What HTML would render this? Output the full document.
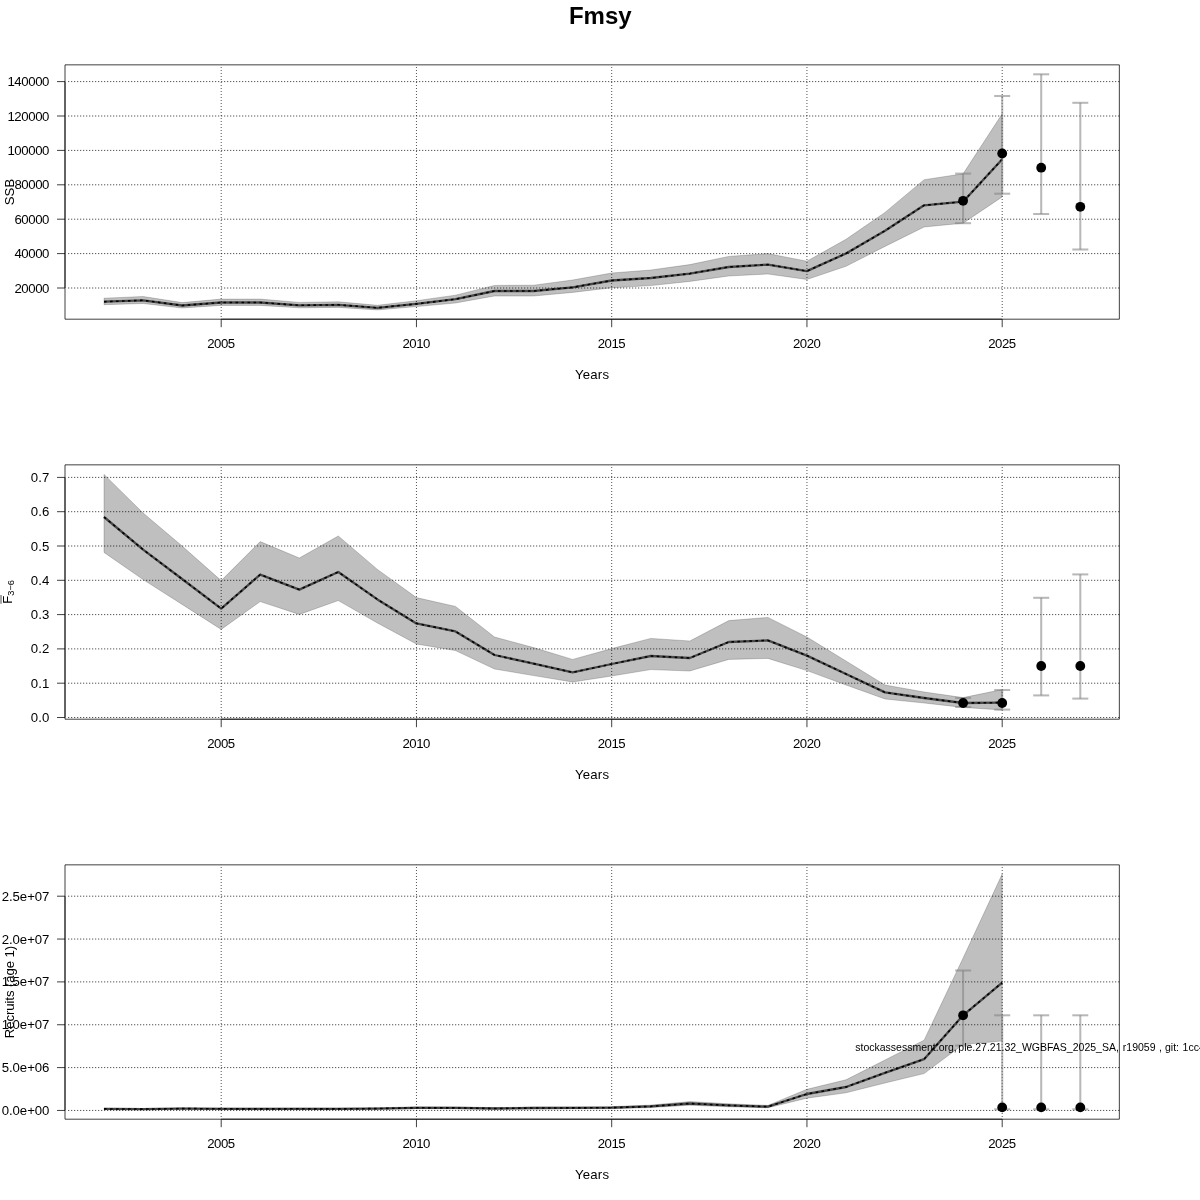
<!DOCTYPE html>
<html><head><meta charset="utf-8"><title>Fmsy</title>
<style>html,body{margin:0;padding:0;background:#fff}svg{display:block;will-change:transform}</style></head>
<body>
<svg width="1200" height="1200" viewBox="0 0 1200 1200">
<rect width="1200" height="1200" fill="#fff"/>
<text x="600.3" y="24.2" text-anchor="middle" font-size="24" font-weight="bold" font-family="Liberation Sans, sans-serif">Fmsy</text>
<g>
<rect x="65.0" y="64.85" width="1054.35" height="254.35" fill="none" stroke="#000" stroke-width="0.75" stroke-linejoin="round"/>
<path d="M221.20 319.2H1002.20" stroke="#000" stroke-width="0.75" fill="none"/>
<path d="M221.20 319.2V327.2" stroke="#000" stroke-width="0.75"/>
<text x="221.20" y="348.2" text-anchor="middle" font-size="13.2" textLength="28" lengthAdjust="spacing" font-family="Liberation Sans, sans-serif">2005</text>
<path d="M416.45 319.2V327.2" stroke="#000" stroke-width="0.75"/>
<text x="416.45" y="348.2" text-anchor="middle" font-size="13.2" textLength="28" lengthAdjust="spacing" font-family="Liberation Sans, sans-serif">2010</text>
<path d="M611.70 319.2V327.2" stroke="#000" stroke-width="0.75"/>
<text x="611.70" y="348.2" text-anchor="middle" font-size="13.2" textLength="28" lengthAdjust="spacing" font-family="Liberation Sans, sans-serif">2015</text>
<path d="M806.95 319.2V327.2" stroke="#000" stroke-width="0.75"/>
<text x="806.95" y="348.2" text-anchor="middle" font-size="13.2" textLength="28" lengthAdjust="spacing" font-family="Liberation Sans, sans-serif">2020</text>
<path d="M1002.20 319.2V327.2" stroke="#000" stroke-width="0.75"/>
<text x="1002.20" y="348.2" text-anchor="middle" font-size="13.2" textLength="28" lengthAdjust="spacing" font-family="Liberation Sans, sans-serif">2025</text>
<path d="M65.0 81.60V288.00" stroke="#000" stroke-width="0.75" fill="none"/>
<path d="M65.0 81.60H57.0" stroke="#000" stroke-width="0.75"/>
<text x="49.4" y="86.1" text-anchor="end" font-size="13.2" textLength="42" lengthAdjust="spacing" font-family="Liberation Sans, sans-serif">140000</text>
<path d="M65.0 116.00H57.0" stroke="#000" stroke-width="0.75"/>
<text x="49.4" y="120.5" text-anchor="end" font-size="13.2" textLength="42" lengthAdjust="spacing" font-family="Liberation Sans, sans-serif">120000</text>
<path d="M65.0 150.40H57.0" stroke="#000" stroke-width="0.75"/>
<text x="49.4" y="154.9" text-anchor="end" font-size="13.2" textLength="42" lengthAdjust="spacing" font-family="Liberation Sans, sans-serif">100000</text>
<path d="M65.0 184.80H57.0" stroke="#000" stroke-width="0.75"/>
<text x="49.4" y="189.3" text-anchor="end" font-size="13.2" textLength="35" lengthAdjust="spacing" font-family="Liberation Sans, sans-serif">80000</text>
<path d="M65.0 219.20H57.0" stroke="#000" stroke-width="0.75"/>
<text x="49.4" y="223.7" text-anchor="end" font-size="13.2" textLength="35" lengthAdjust="spacing" font-family="Liberation Sans, sans-serif">60000</text>
<path d="M65.0 253.60H57.0" stroke="#000" stroke-width="0.75"/>
<text x="49.4" y="258.1" text-anchor="end" font-size="13.2" textLength="35" lengthAdjust="spacing" font-family="Liberation Sans, sans-serif">40000</text>
<path d="M65.0 288.00H57.0" stroke="#000" stroke-width="0.75"/>
<text x="49.4" y="292.5" text-anchor="end" font-size="13.2" textLength="35" lengthAdjust="spacing" font-family="Liberation Sans, sans-serif">20000</text>
<text x="592" y="379.0" text-anchor="middle" font-size="13.2" textLength="34" lengthAdjust="spacing" font-family="Liberation Sans, sans-serif">Years</text>
<text transform="translate(14 192.0) rotate(-90)" text-anchor="middle" font-size="13.2" textLength="26.4" lengthAdjust="spacing" font-family="Liberation Sans, sans-serif">SSB</text>
<path d="M68.25 81.60H1119.35" stroke="#000" stroke-width="0.9" stroke-dasharray="0.95 2.05" fill="none"/>
<path d="M68.25 116.00H1119.35" stroke="#000" stroke-width="0.9" stroke-dasharray="0.95 2.05" fill="none"/>
<path d="M68.25 150.40H1119.35" stroke="#000" stroke-width="0.9" stroke-dasharray="0.95 2.05" fill="none"/>
<path d="M68.25 184.80H1119.35" stroke="#000" stroke-width="0.9" stroke-dasharray="0.95 2.05" fill="none"/>
<path d="M68.25 219.20H1119.35" stroke="#000" stroke-width="0.9" stroke-dasharray="0.95 2.05" fill="none"/>
<path d="M68.25 253.60H1119.35" stroke="#000" stroke-width="0.9" stroke-dasharray="0.95 2.05" fill="none"/>
<path d="M68.25 288.00H1119.35" stroke="#000" stroke-width="0.9" stroke-dasharray="0.95 2.05" fill="none"/>
<path d="M221.20 317.0V64.85" stroke="#000" stroke-width="0.8" stroke-dasharray="0.85 2.15" fill="none"/>
<path d="M416.45 317.0V64.85" stroke="#000" stroke-width="0.8" stroke-dasharray="0.85 2.15" fill="none"/>
<path d="M611.70 317.0V64.85" stroke="#000" stroke-width="0.8" stroke-dasharray="0.85 2.15" fill="none"/>
<path d="M806.95 317.0V64.85" stroke="#000" stroke-width="0.8" stroke-dasharray="0.85 2.15" fill="none"/>
<path d="M1002.20 317.0V64.85" stroke="#000" stroke-width="0.8" stroke-dasharray="0.85 2.15" fill="none"/>
<polygon points="104.0,298.2 143.1,296.5 182.1,302.6 221.2,299.1 260.2,299.1 299.3,302.4 338.3,301.8 377.4,305.3 416.4,300.7 455.5,295.2 494.5,285.4 533.6,285.2 572.6,280.0 611.7,273.0 650.8,270.0 689.8,264.6 728.8,256.4 767.9,253.6 806.9,261.2 846.0,239.3 885.0,212.4 924.1,179.7 963.1,173.8 1002.2,113.8 1002.2,196.9 963.1,223.2 924.1,227.0 885.0,246.4 846.0,266.3 806.9,279.5 767.9,274.0 728.8,276.0 689.8,281.4 650.8,285.6 611.7,287.8 572.6,292.4 533.6,296.0 494.5,296.0 455.5,303.0 416.4,306.6 377.4,309.9 338.3,307.4 299.3,307.8 260.2,305.4 221.2,305.4 182.1,308.0 143.1,303.5 104.0,304.7" fill="rgba(0,0,0,0.25)" stroke="rgba(0,0,0,0.25)" stroke-width="0.75" stroke-linejoin="round"/>
<path d="M104.0 301.7 L143.1 300.3 L182.1 305.5 L221.2 302.5 L260.2 302.5 L299.3 305.3 L338.3 304.8 L377.4 307.8 L416.4 303.9 L455.5 299.2 L494.5 291.0 L533.6 291.0 L572.6 287.4 L611.7 280.5 L650.8 278.0 L689.8 273.6 L728.8 267.0 L767.9 264.6 L806.9 271.1 L846.0 253.5 L885.0 230.8 L924.1 205.3 L963.1 201.7 L1002.2 159.2" fill="none" stroke="rgba(0,0,0,0.62)" stroke-width="2.3" stroke-linejoin="round"/>
<path d="M104.0 301.7 L143.1 300.3 L182.1 305.5 L221.2 302.5 L260.2 302.5 L299.3 305.3 L338.3 304.8 L377.4 307.8 L416.4 303.9 L455.5 299.2 L494.5 291.0 L533.6 291.0 L572.6 287.4 L611.7 280.5 L650.8 278.0 L689.8 273.6 L728.8 267.0 L767.9 264.6 L806.9 271.1 L846.0 253.5 L885.0 230.8 L924.1 205.3 L963.1 201.7 L1002.2 159.2" fill="none" stroke="#000" stroke-width="1.6" stroke-dasharray="2.6 3.4" stroke-linejoin="round"/>
<path d="M963.1 173.6V223.2" stroke="rgba(128,128,128,0.56)" stroke-width="2.05" fill="none"/>
<path d="M955.1 173.6H971.1" stroke="rgba(128,128,128,0.56)" stroke-width="2.05" fill="none"/>
<path d="M955.1 223.2H971.1" stroke="rgba(128,128,128,0.56)" stroke-width="2.05" fill="none"/>
<path d="M1002.2 96V193.7" stroke="rgba(128,128,128,0.56)" stroke-width="2.05" fill="none"/>
<path d="M994.2 96H1010.2" stroke="rgba(128,128,128,0.56)" stroke-width="2.05" fill="none"/>
<path d="M994.2 193.7H1010.2" stroke="rgba(128,128,128,0.56)" stroke-width="2.05" fill="none"/>
<path d="M1041.2 74.3V214" stroke="rgba(128,128,128,0.56)" stroke-width="2.05" fill="none"/>
<path d="M1033.2 74.3H1049.2" stroke="rgba(128,128,128,0.56)" stroke-width="2.05" fill="none"/>
<path d="M1033.2 214H1049.2" stroke="rgba(128,128,128,0.56)" stroke-width="2.05" fill="none"/>
<path d="M1080.3 102.8V249.5" stroke="rgba(128,128,128,0.56)" stroke-width="2.05" fill="none"/>
<path d="M1072.3 102.8H1088.3" stroke="rgba(128,128,128,0.56)" stroke-width="2.05" fill="none"/>
<path d="M1072.3 249.5H1088.3" stroke="rgba(128,128,128,0.56)" stroke-width="2.05" fill="none"/>
<circle cx="963.1" cy="200.8" r="4.9" fill="#000"/>
<circle cx="1002.2" cy="153.5" r="4.9" fill="#000"/>
<circle cx="1041.2" cy="167.7" r="4.9" fill="#000"/>
<circle cx="1080.3" cy="206.8" r="4.9" fill="#000"/>
</g>
<g>
<rect x="65.0" y="464.85" width="1054.35" height="254.35000000000002" fill="none" stroke="#000" stroke-width="0.75" stroke-linejoin="round"/>
<path d="M221.20 719.2H1002.20" stroke="#000" stroke-width="0.75" fill="none"/>
<path d="M221.20 719.2V727.2" stroke="#000" stroke-width="0.75"/>
<text x="221.20" y="748.2" text-anchor="middle" font-size="13.2" textLength="28" lengthAdjust="spacing" font-family="Liberation Sans, sans-serif">2005</text>
<path d="M416.45 719.2V727.2" stroke="#000" stroke-width="0.75"/>
<text x="416.45" y="748.2" text-anchor="middle" font-size="13.2" textLength="28" lengthAdjust="spacing" font-family="Liberation Sans, sans-serif">2010</text>
<path d="M611.70 719.2V727.2" stroke="#000" stroke-width="0.75"/>
<text x="611.70" y="748.2" text-anchor="middle" font-size="13.2" textLength="28" lengthAdjust="spacing" font-family="Liberation Sans, sans-serif">2015</text>
<path d="M806.95 719.2V727.2" stroke="#000" stroke-width="0.75"/>
<text x="806.95" y="748.2" text-anchor="middle" font-size="13.2" textLength="28" lengthAdjust="spacing" font-family="Liberation Sans, sans-serif">2020</text>
<path d="M1002.20 719.2V727.2" stroke="#000" stroke-width="0.75"/>
<text x="1002.20" y="748.2" text-anchor="middle" font-size="13.2" textLength="28" lengthAdjust="spacing" font-family="Liberation Sans, sans-serif">2025</text>
<path d="M65.0 477.40V717.50" stroke="#000" stroke-width="0.75" fill="none"/>
<path d="M65.0 477.40H57.0" stroke="#000" stroke-width="0.75"/>
<text x="49.4" y="481.9" text-anchor="end" font-size="13.2" textLength="18.7" lengthAdjust="spacing" font-family="Liberation Sans, sans-serif">0.7</text>
<path d="M65.0 511.70H57.0" stroke="#000" stroke-width="0.75"/>
<text x="49.4" y="516.2" text-anchor="end" font-size="13.2" textLength="18.7" lengthAdjust="spacing" font-family="Liberation Sans, sans-serif">0.6</text>
<path d="M65.0 546.00H57.0" stroke="#000" stroke-width="0.75"/>
<text x="49.4" y="550.5" text-anchor="end" font-size="13.2" textLength="18.7" lengthAdjust="spacing" font-family="Liberation Sans, sans-serif">0.5</text>
<path d="M65.0 580.30H57.0" stroke="#000" stroke-width="0.75"/>
<text x="49.4" y="584.8" text-anchor="end" font-size="13.2" textLength="18.7" lengthAdjust="spacing" font-family="Liberation Sans, sans-serif">0.4</text>
<path d="M65.0 614.60H57.0" stroke="#000" stroke-width="0.75"/>
<text x="49.4" y="619.1" text-anchor="end" font-size="13.2" textLength="18.7" lengthAdjust="spacing" font-family="Liberation Sans, sans-serif">0.3</text>
<path d="M65.0 648.90H57.0" stroke="#000" stroke-width="0.75"/>
<text x="49.4" y="653.4" text-anchor="end" font-size="13.2" textLength="18.7" lengthAdjust="spacing" font-family="Liberation Sans, sans-serif">0.2</text>
<path d="M65.0 683.20H57.0" stroke="#000" stroke-width="0.75"/>
<text x="49.4" y="687.7" text-anchor="end" font-size="13.2" textLength="18.7" lengthAdjust="spacing" font-family="Liberation Sans, sans-serif">0.1</text>
<path d="M65.0 717.50H57.0" stroke="#000" stroke-width="0.75"/>
<text x="49.4" y="722.0" text-anchor="end" font-size="13.2" textLength="18.7" lengthAdjust="spacing" font-family="Liberation Sans, sans-serif">0.0</text>
<text x="592" y="779.0" text-anchor="middle" font-size="13.2" textLength="34" lengthAdjust="spacing" font-family="Liberation Sans, sans-serif">Years</text>
<g transform="translate(12 603.75) rotate(-90)"><text x="0" y="0" font-size="13.2" font-family="Liberation Sans, sans-serif">F</text><text x="8.1" y="2" font-size="9.24" font-family="Liberation Sans, sans-serif">3−6</text><path d="M0 -11H8.7" stroke="#888" stroke-width="1.5"/></g>
<path d="M68.25 477.40H1119.35" stroke="#000" stroke-width="0.9" stroke-dasharray="0.95 2.05" fill="none"/>
<path d="M68.25 511.70H1119.35" stroke="#000" stroke-width="0.9" stroke-dasharray="0.95 2.05" fill="none"/>
<path d="M68.25 546.00H1119.35" stroke="#000" stroke-width="0.9" stroke-dasharray="0.95 2.05" fill="none"/>
<path d="M68.25 580.30H1119.35" stroke="#000" stroke-width="0.9" stroke-dasharray="0.95 2.05" fill="none"/>
<path d="M68.25 614.60H1119.35" stroke="#000" stroke-width="0.9" stroke-dasharray="0.95 2.05" fill="none"/>
<path d="M68.25 648.90H1119.35" stroke="#000" stroke-width="0.9" stroke-dasharray="0.95 2.05" fill="none"/>
<path d="M68.25 683.20H1119.35" stroke="#000" stroke-width="0.9" stroke-dasharray="0.95 2.05" fill="none"/>
<path d="M68.25 717.50H1119.35" stroke="#000" stroke-width="0.9" stroke-dasharray="0.95 2.05" fill="none"/>
<path d="M221.20 717.0V464.85" stroke="#000" stroke-width="0.8" stroke-dasharray="0.85 2.15" fill="none"/>
<path d="M416.45 717.0V464.85" stroke="#000" stroke-width="0.8" stroke-dasharray="0.85 2.15" fill="none"/>
<path d="M611.70 717.0V464.85" stroke="#000" stroke-width="0.8" stroke-dasharray="0.85 2.15" fill="none"/>
<path d="M806.95 717.0V464.85" stroke="#000" stroke-width="0.8" stroke-dasharray="0.85 2.15" fill="none"/>
<path d="M1002.20 717.0V464.85" stroke="#000" stroke-width="0.8" stroke-dasharray="0.85 2.15" fill="none"/>
<polygon points="104.0,474.4 143.1,513.0 182.1,546.0 221.2,580.6 260.2,541.6 299.3,558.0 338.3,536.0 377.4,569.4 416.4,597.6 455.5,606.4 494.5,637.0 533.6,647.6 572.6,659.4 611.7,648.6 650.8,638.4 689.8,641.0 728.8,620.6 767.9,617.4 806.9,637.0 846.0,661.0 885.0,685.0 924.1,692.0 963.1,697.6 1002.2,689.6 1002.2,710.0 963.1,707.4 924.1,703.0 885.0,699.0 846.0,685.0 806.9,670.6 767.9,658.4 728.8,659.4 689.8,671.0 650.8,669.6 611.7,676.0 572.6,682.0 533.6,675.6 494.5,669.0 455.5,650.6 416.4,644.0 377.4,623.0 338.3,600.6 299.3,614.4 260.2,601.6 221.2,629.4 182.1,604.4 143.1,579.6 104.0,552.4" fill="rgba(0,0,0,0.25)" stroke="rgba(0,0,0,0.25)" stroke-width="0.75" stroke-linejoin="round"/>
<path d="M104.0 517.0 L143.1 549.6 L182.1 579.0 L221.2 608.6 L260.2 574.6 L299.3 589.6 L338.3 572.0 L377.4 599.4 L416.4 623.4 L455.5 631.4 L494.5 655.0 L533.6 663.6 L572.6 672.4 L611.7 664.0 L650.8 656.0 L689.8 658.0 L728.8 642.0 L767.9 640.4 L806.9 655.6 L846.0 674.0 L885.0 692.4 L924.1 698.0 L963.1 703.0 L1002.2 702.6" fill="none" stroke="rgba(0,0,0,0.62)" stroke-width="2.3" stroke-linejoin="round"/>
<path d="M104.0 517.0 L143.1 549.6 L182.1 579.0 L221.2 608.6 L260.2 574.6 L299.3 589.6 L338.3 572.0 L377.4 599.4 L416.4 623.4 L455.5 631.4 L494.5 655.0 L533.6 663.6 L572.6 672.4 L611.7 664.0 L650.8 656.0 L689.8 658.0 L728.8 642.0 L767.9 640.4 L806.9 655.6 L846.0 674.0 L885.0 692.4 L924.1 698.0 L963.1 703.0 L1002.2 702.6" fill="none" stroke="#000" stroke-width="1.6" stroke-dasharray="2.6 3.4" stroke-linejoin="round"/>
<path d="M963.1 698V707" stroke="rgba(128,128,128,0.56)" stroke-width="2.05" fill="none"/>
<path d="M955.1 698H971.1" stroke="rgba(128,128,128,0.56)" stroke-width="2.05" fill="none"/>
<path d="M955.1 707H971.1" stroke="rgba(128,128,128,0.56)" stroke-width="2.05" fill="none"/>
<path d="M1002.2 690V709.6" stroke="rgba(128,128,128,0.56)" stroke-width="2.05" fill="none"/>
<path d="M994.2 690H1010.2" stroke="rgba(128,128,128,0.56)" stroke-width="2.05" fill="none"/>
<path d="M994.2 709.6H1010.2" stroke="rgba(128,128,128,0.56)" stroke-width="2.05" fill="none"/>
<path d="M1041.2 597.8V695.4" stroke="rgba(128,128,128,0.56)" stroke-width="2.05" fill="none"/>
<path d="M1033.2 597.8H1049.2" stroke="rgba(128,128,128,0.56)" stroke-width="2.05" fill="none"/>
<path d="M1033.2 695.4H1049.2" stroke="rgba(128,128,128,0.56)" stroke-width="2.05" fill="none"/>
<path d="M1080.3 574.4V698.6" stroke="rgba(128,128,128,0.56)" stroke-width="2.05" fill="none"/>
<path d="M1072.3 574.4H1088.3" stroke="rgba(128,128,128,0.56)" stroke-width="2.05" fill="none"/>
<path d="M1072.3 698.6H1088.3" stroke="rgba(128,128,128,0.56)" stroke-width="2.05" fill="none"/>
<circle cx="963.1" cy="703" r="4.9" fill="#000"/>
<circle cx="1002.2" cy="703" r="4.9" fill="#000"/>
<circle cx="1041.2" cy="666" r="4.9" fill="#000"/>
<circle cx="1080.3" cy="666" r="4.9" fill="#000"/>
</g>
<g>
<rect x="65.0" y="864.85" width="1054.35" height="254.35000000000002" fill="none" stroke="#000" stroke-width="0.75" stroke-linejoin="round"/>
<path d="M221.20 1119.2H1002.20" stroke="#000" stroke-width="0.75" fill="none"/>
<path d="M221.20 1119.2V1127.2" stroke="#000" stroke-width="0.75"/>
<text x="221.20" y="1148.2" text-anchor="middle" font-size="13.2" textLength="28" lengthAdjust="spacing" font-family="Liberation Sans, sans-serif">2005</text>
<path d="M416.45 1119.2V1127.2" stroke="#000" stroke-width="0.75"/>
<text x="416.45" y="1148.2" text-anchor="middle" font-size="13.2" textLength="28" lengthAdjust="spacing" font-family="Liberation Sans, sans-serif">2010</text>
<path d="M611.70 1119.2V1127.2" stroke="#000" stroke-width="0.75"/>
<text x="611.70" y="1148.2" text-anchor="middle" font-size="13.2" textLength="28" lengthAdjust="spacing" font-family="Liberation Sans, sans-serif">2015</text>
<path d="M806.95 1119.2V1127.2" stroke="#000" stroke-width="0.75"/>
<text x="806.95" y="1148.2" text-anchor="middle" font-size="13.2" textLength="28" lengthAdjust="spacing" font-family="Liberation Sans, sans-serif">2020</text>
<path d="M1002.20 1119.2V1127.2" stroke="#000" stroke-width="0.75"/>
<text x="1002.20" y="1148.2" text-anchor="middle" font-size="13.2" textLength="28" lengthAdjust="spacing" font-family="Liberation Sans, sans-serif">2025</text>
<path d="M65.0 896.20V1110.45" stroke="#000" stroke-width="0.75" fill="none"/>
<path d="M65.0 896.20H57.0" stroke="#000" stroke-width="0.75"/>
<text x="49.4" y="900.7" text-anchor="end" font-size="13.2" textLength="47.7" lengthAdjust="spacing" font-family="Liberation Sans, sans-serif">2.5e+07</text>
<path d="M65.0 939.05H57.0" stroke="#000" stroke-width="0.75"/>
<text x="49.4" y="943.6" text-anchor="end" font-size="13.2" textLength="47.7" lengthAdjust="spacing" font-family="Liberation Sans, sans-serif">2.0e+07</text>
<path d="M65.0 981.90H57.0" stroke="#000" stroke-width="0.75"/>
<text x="49.4" y="986.4" text-anchor="end" font-size="13.2" textLength="47.7" lengthAdjust="spacing" font-family="Liberation Sans, sans-serif">1.5e+07</text>
<path d="M65.0 1024.75H57.0" stroke="#000" stroke-width="0.75"/>
<text x="49.4" y="1029.2" text-anchor="end" font-size="13.2" textLength="47.7" lengthAdjust="spacing" font-family="Liberation Sans, sans-serif">1.0e+07</text>
<path d="M65.0 1067.60H57.0" stroke="#000" stroke-width="0.75"/>
<text x="49.4" y="1072.1" text-anchor="end" font-size="13.2" textLength="47.7" lengthAdjust="spacing" font-family="Liberation Sans, sans-serif">5.0e+06</text>
<path d="M65.0 1110.45H57.0" stroke="#000" stroke-width="0.75"/>
<text x="49.4" y="1115.0" text-anchor="end" font-size="13.2" textLength="47.7" lengthAdjust="spacing" font-family="Liberation Sans, sans-serif">0.0e+00</text>
<text x="592" y="1179.0" text-anchor="middle" font-size="13.2" textLength="34" lengthAdjust="spacing" font-family="Liberation Sans, sans-serif">Years</text>
<text transform="translate(14 992.0) rotate(-90)" text-anchor="middle" font-size="13.2" textLength="92.3" lengthAdjust="spacing" font-family="Liberation Sans, sans-serif">Recruits (age 1)</text>
<path d="M68.25 896.20H1119.35" stroke="#000" stroke-width="0.9" stroke-dasharray="0.95 2.05" fill="none"/>
<path d="M68.25 939.05H1119.35" stroke="#000" stroke-width="0.9" stroke-dasharray="0.95 2.05" fill="none"/>
<path d="M68.25 981.90H1119.35" stroke="#000" stroke-width="0.9" stroke-dasharray="0.95 2.05" fill="none"/>
<path d="M68.25 1024.75H1119.35" stroke="#000" stroke-width="0.9" stroke-dasharray="0.95 2.05" fill="none"/>
<path d="M68.25 1067.60H1119.35" stroke="#000" stroke-width="0.9" stroke-dasharray="0.95 2.05" fill="none"/>
<path d="M68.25 1110.45H1119.35" stroke="#000" stroke-width="0.9" stroke-dasharray="0.95 2.05" fill="none"/>
<path d="M221.20 1117.0V864.85" stroke="#000" stroke-width="0.8" stroke-dasharray="0.85 2.15" fill="none"/>
<path d="M416.45 1117.0V864.85" stroke="#000" stroke-width="0.8" stroke-dasharray="0.85 2.15" fill="none"/>
<path d="M611.70 1117.0V864.85" stroke="#000" stroke-width="0.8" stroke-dasharray="0.85 2.15" fill="none"/>
<path d="M806.95 1117.0V864.85" stroke="#000" stroke-width="0.8" stroke-dasharray="0.85 2.15" fill="none"/>
<path d="M1002.20 1117.0V864.85" stroke="#000" stroke-width="0.8" stroke-dasharray="0.85 2.15" fill="none"/>
<polygon points="104.0,1108.2 143.1,1108.4 182.1,1107.8 221.2,1108.0 260.2,1108.1 299.3,1108.0 338.3,1108.1 377.4,1107.8 416.4,1106.8 455.5,1106.9 494.5,1107.6 533.6,1107.0 572.6,1106.9 611.7,1106.6 650.8,1105.1 689.8,1101.6 728.8,1103.8 767.9,1105.4 806.9,1089.3 846.0,1079.8 885.0,1060.0 924.1,1040.2 963.1,958.0 1002.2,874.0 1002.2,1041.0 963.1,1044.5 924.1,1073.6 885.0,1083.0 846.0,1092.8 806.9,1098.2 767.9,1107.8 728.8,1106.8 689.8,1105.2 650.8,1107.6 611.7,1108.7 572.6,1108.8 533.6,1108.9 494.5,1109.3 455.5,1108.8 416.4,1108.7 377.4,1109.3 338.3,1109.6 299.3,1109.5 260.2,1109.6 221.2,1109.5 182.1,1109.3 143.1,1109.7 104.0,1109.5" fill="rgba(0,0,0,0.25)" stroke="rgba(0,0,0,0.25)" stroke-width="0.75" stroke-linejoin="round"/>
<path d="M104.0 1108.9 L143.1 1109.1 L182.1 1108.6 L221.2 1108.8 L260.2 1108.9 L299.3 1108.8 L338.3 1108.9 L377.4 1108.6 L416.4 1107.8 L455.5 1107.9 L494.5 1108.5 L533.6 1108.0 L572.6 1107.9 L611.7 1107.7 L650.8 1106.4 L689.8 1103.5 L728.8 1105.4 L767.9 1106.7 L806.9 1094.0 L846.0 1087.0 L885.0 1072.8 L924.1 1059.2 L963.1 1015.3 L1002.2 982.6" fill="none" stroke="rgba(0,0,0,0.62)" stroke-width="2.3" stroke-linejoin="round"/>
<path d="M104.0 1108.9 L143.1 1109.1 L182.1 1108.6 L221.2 1108.8 L260.2 1108.9 L299.3 1108.8 L338.3 1108.9 L377.4 1108.6 L416.4 1107.8 L455.5 1107.9 L494.5 1108.5 L533.6 1108.0 L572.6 1107.9 L611.7 1107.7 L650.8 1106.4 L689.8 1103.5 L728.8 1105.4 L767.9 1106.7 L806.9 1094.0 L846.0 1087.0 L885.0 1072.8 L924.1 1059.2 L963.1 1015.3 L1002.2 982.6" fill="none" stroke="#000" stroke-width="1.6" stroke-dasharray="2.6 3.4" stroke-linejoin="round"/>
<path d="M963.1 970.5V1045.5" stroke="rgba(128,128,128,0.56)" stroke-width="2.05" fill="none"/>
<path d="M955.1 970.5H971.1" stroke="rgba(128,128,128,0.56)" stroke-width="2.05" fill="none"/>
<path d="M955.1 1045.5H971.1" stroke="rgba(128,128,128,0.56)" stroke-width="2.05" fill="none"/>
<path d="M1002.2 1015.3V1109.3" stroke="rgba(128,128,128,0.56)" stroke-width="2.05" fill="none"/>
<path d="M994.2 1015.3H1010.2" stroke="rgba(128,128,128,0.56)" stroke-width="2.05" fill="none"/>
<path d="M994.2 1109.3H1010.2" stroke="rgba(128,128,128,0.56)" stroke-width="2.05" fill="none"/>
<path d="M1041.2 1015.3V1109.3" stroke="rgba(128,128,128,0.56)" stroke-width="2.05" fill="none"/>
<path d="M1033.2 1015.3H1049.2" stroke="rgba(128,128,128,0.56)" stroke-width="2.05" fill="none"/>
<path d="M1033.2 1109.3H1049.2" stroke="rgba(128,128,128,0.56)" stroke-width="2.05" fill="none"/>
<path d="M1080.3 1015.3V1109.3" stroke="rgba(128,128,128,0.56)" stroke-width="2.05" fill="none"/>
<path d="M1072.3 1015.3H1088.3" stroke="rgba(128,128,128,0.56)" stroke-width="2.05" fill="none"/>
<path d="M1072.3 1109.3H1088.3" stroke="rgba(128,128,128,0.56)" stroke-width="2.05" fill="none"/>
<circle cx="963.1" cy="1015.3" r="4.9" fill="#000"/>
<circle cx="1002.2" cy="1107.4" r="4.9" fill="#000"/>
<circle cx="1041.2" cy="1107.4" r="4.9" fill="#000"/>
<circle cx="1080.3" cy="1107.4" r="4.9" fill="#000"/>
<text y="1051" font-size="10.5" font-family="Liberation Sans, sans-serif"><tspan x="855.25">stockassessment.org,</tspan><tspan x="958.3">ple.27.21.32_WGBFAS_2025_SA,</tspan><tspan x="1122.8">r19059</tspan><tspan x="1159">,</tspan><tspan x="1165">git:</tspan><tspan x="1182.6">1cc4a7b</tspan></text>
</g>
</svg>
</body></html>
